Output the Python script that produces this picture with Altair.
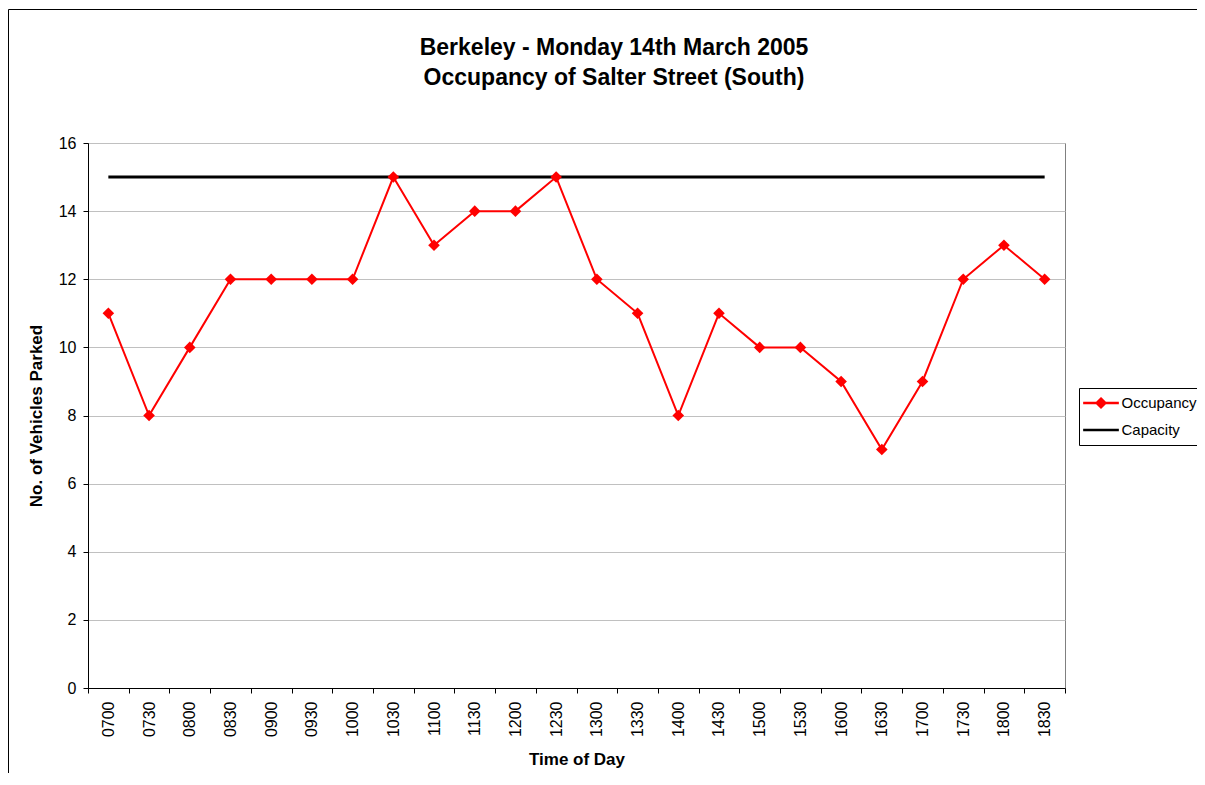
import altair as alt
import pandas as pd

times = ["0700", "0730", "0800", "0830", "0900", "0930", "1000", "1030", "1100", "1130",
         "1200", "1230", "1300", "1330", "1400", "1430", "1500", "1530", "1600", "1630",
         "1700", "1730", "1800", "1830"]
occupancy = [11, 8, 10, 12, 12, 12, 12, 15, 13, 14, 14, 15, 12, 11, 8, 11, 10, 10, 9, 7,
             9, 12, 13, 12]
capacity = [15] * len(times)
y_ticks = [0, 2, 4, 6, 8, 10, 12, 14, 16]
series_names = ["Occupancy", "Capacity"]
series_colors = ["#ff0000", "#000000"]
title_lines = ["Berkeley - Monday 14th March 2005", "Occupancy of Salter Street (South)"]

rows = []
for t, o, c in zip(times, occupancy, capacity):
    rows.append({"time": t, "series": "Occupancy", "value": o})
    rows.append({"time": t, "series": "Capacity", "value": c})
df = pd.DataFrame(rows)

FONT = "Liberation Sans"
OCC_PATH = "M-2.55,0H2.55M0,-0.62L0.62,0L0,0.62L-0.62,0Z"
LINE_PATH = "M-2.55,0H2.55"
is_cap = "datum.value === 'Capacity'"

x_enc = alt.X(
    "time:N",
    sort=times,
    scale=alt.Scale(type="band", paddingInner=0, paddingOuter=0),
    axis=alt.Axis(
        title="Time of Day",
        labelAngle=270,
        labelAlign="right",
        labelBaseline="middle",
        tickBand="extent",
        labelPadding=8,
        tickSize=5,
        titlePadding=15,
    ),
)
y_enc = alt.Y(
    "value:Q",
    scale=alt.Scale(domain=[0, 16], nice=False),
    axis=alt.Axis(title="No. of Vehicles Parked", values=y_ticks, tickSize=5,
                  labelPadding=7, titlePadding=13, grid=True),
)
color_enc = alt.Color(
    "series:N",
    scale=alt.Scale(domain=series_names, range=series_colors),
    legend=alt.Legend(
        title=None,
        orient="none",
        legendX=991,
        legendY=245,
        symbolSize=196,
        symbolStrokeWidth=2.5,
        symbolOffset=9.5,
        labelOffset=12,
        clipHeight=22,
        rowPadding=5,
        padding=4,
        strokeColor="#000000",
        fillColor="#ffffff",
        symbolType={"expr": f"{is_cap} ? '{LINE_PATH}' : '{OCC_PATH}'"},
        symbolFillColor={"expr": f"{is_cap} ? 'transparent' : '#ff0000'"},
    ),
)

base = alt.Chart(df).encode(x=x_enc, y=y_enc, color=color_enc)

cap_line = base.transform_filter("datum.series == 'Capacity'").mark_line(strokeWidth=3)
occ_line = base.transform_filter("datum.series == 'Occupancy'").mark_line(
    strokeWidth=2,
    point=alt.OverlayMarkDef(shape="diamond", filled=True, size=135, color="#ff0000"),
)

frame = alt.Chart(alt.Data(values=[{"a": 1}])).mark_rect(
    fill="transparent", stroke="#000000", strokeWidth=1
).encode(
    x=alt.value(-79.5), x2=alt.value(1300), y=alt.value(-133.5), y2=alt.value(900)
)

title1 = alt.Chart(alt.Data(values=[{"a": 1}])).mark_text(
    text=title_lines[0], font=FONT, fontSize=23, fontWeight="bold",
    align="center", baseline="alphabetic", color="#000000"
).encode(x=alt.value(526), y=alt.value(-88))
title2 = alt.Chart(alt.Data(values=[{"a": 1}])).mark_text(
    text=title_lines[1], font=FONT, fontSize=23, fontWeight="bold",
    align="center", baseline="alphabetic", color="#000000"
).encode(x=alt.value(526), y=alt.value(-58))

chart = alt.layer(frame, title1, title2, cap_line, occ_line).properties(
    width=977,
    height=545,
    autosize=alt.AutoSizeParams(type="none"),
    padding={"left": 80, "top": 135, "right": 132, "bottom": 85},
).configure_view(
    stroke="#808080", strokeWidth=1
).configure_axis(
    labelFont=FONT, labelFontSize=16, labelColor="#000000",
    titleFont=FONT, titleFontSize=17, titleFontWeight="bold", titleColor="#000000",
    domainColor="#000000", tickColor="#000000", gridColor="#c0c0c0",
).configure_axisX(grid=False).configure_legend(
    labelFont=FONT, labelFontSize=15, labelColor="#000000",
)

chart.save("out.html", embed_options={"renderer": "svg", "actions": False})
